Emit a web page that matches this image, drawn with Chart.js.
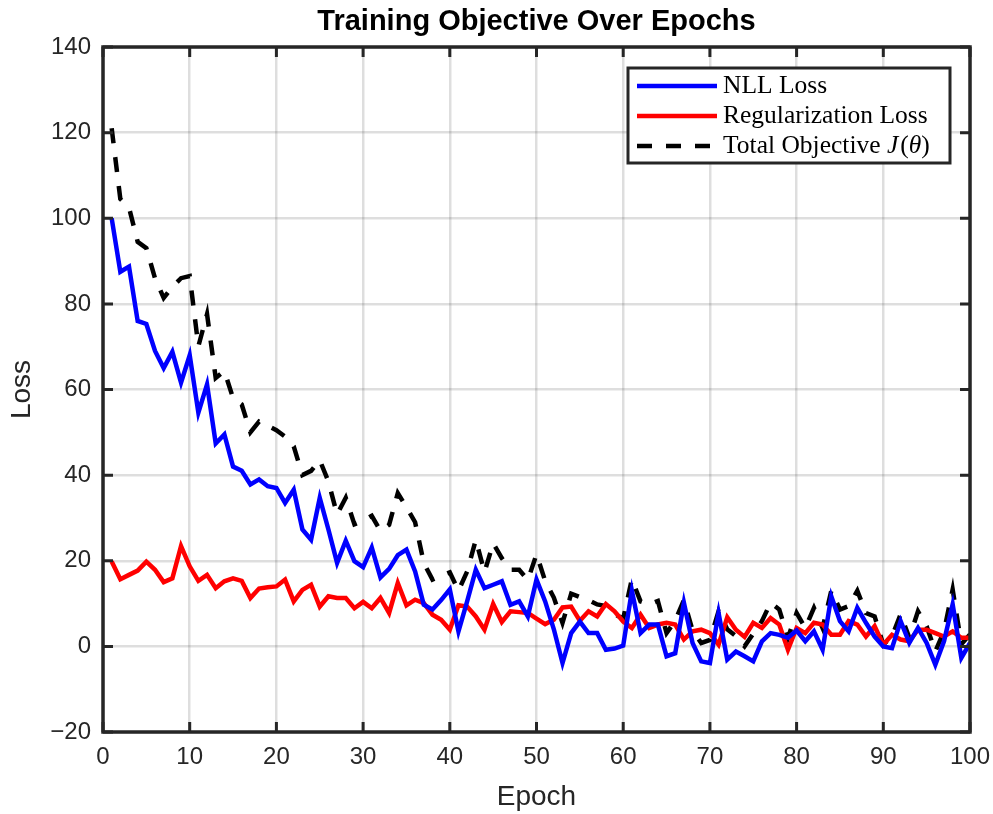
<!DOCTYPE html>
<html>
<head>
<meta charset="utf-8">
<script src="https://cdn.jsdelivr.net/npm/chart.js@4/dist/chart.umd.min.js"></script>
<style>
  html, body { margin: 0; padding: 0; background: #ffffff; }
  #wrap { width: 993px; height: 814px; }
</style>
</head>
<body>
<div id="wrap"><canvas id="c" width="993" height="814"></canvas></div>
<script>
// ---- Data ----
const epochs = Array.from({ length: 100 }, (_, i) => i + 1);

const nllLoss = [
  100, 87.5, 88.7, 76, 75.3, 69, 65, 68.8, 61.6, 68,
  54.6, 61.2, 47.4, 49.5, 42, 41, 37.8, 39, 37.4, 37,
  33.5, 36.6, 27.3, 24.9, 34.7, 27.3, 19.5, 24.7, 19.9, 18.5,
  23.1, 16.1, 18.1, 21.3, 22.6, 17.5, 9.7, 8.6, 10.8, 13.3,
  3.5, 10.5, 17.9, 13.6, 14.4, 15.2, 9.7, 10.5, 7, 15.6,
  10.5, 4, -3.9, 3.1, 5.8, 3.1, 3.1, -0.8, -0.5, 0.2,
  13, 3.1, 5.1, 5.1, -2.3, -1.6, 10.2, 0.8, -3.5, -3.9,
  7.8, -3.1, -1.2, -2.3, -3.5, 1.2, 3.1, 2.7, 2, 3.7,
  1.2, 3.5, -0.8, 11.7, 5.9, 3.5, 9, 5.5, 2.3, 0,
  -0.4, 5.9, 0.8, 4.3, 0.8, -4.3, 1.2, 9.8, -2.7, 0.8
];

const regLoss = [
  19.8, 15.7, 16.7, 17.7, 19.8, 17.9, 15, 15.9, 23.4, 18.7,
  15.3, 16.7, 13.6, 15.2, 15.9, 15.3, 11.3, 13.5, 13.8, 14,
  15.6, 10.5, 13.2, 14.4, 9.3, 11.7, 11.3, 11.3, 8.9, 10.4,
  8.9, 11.3, 7.8, 14.8, 9.6, 10.9, 10.1, 7.4, 6.2, 3.9,
  9.6, 9.3, 7, 3.9, 9.9, 5.7, 8.2, 8, 7.8, 6.5,
  5.2, 6.2, 9.1, 9.3, 6, 8.2, 7, 9.9, 8.2, 5.8,
  4.3, 7.4, 4.3, 5.1, 5.5, 5.1, 1.6, 3.5, 3.9, 3.1,
  0.4, 6.8, 3.9, 2.2, 5.5, 4.3, 6.6, 5.1, -0.8, 4.3,
  3.1, 5.5, 5.1, 2.7, 2.7, 5.9, 5.1, 2.3, 4.7, 0.4,
  2.7, 1.6, 1.2, 3.9, 3.9, 3.1, 2.3, 3.5, 2, 2
];

const totalObjective = [
  121, 104.5, 102.5, 94.5, 93, 86, 81.4, 84, 86, 86.5,
  70.1, 77.6, 62.7, 64.3, 58, 56.5, 50, 52.5, 51.5, 50.5,
  49, 46.7, 40, 41, 43.5, 38.5, 30.8, 34.7, 28.5, 29.3,
  30.5, 27, 28.4, 35.8, 32.5, 29, 19.5, 15.6, 16.5, 17.3,
  13, 17.5, 24.9, 17.3, 24.1, 20.6, 17.9, 17.9, 15.5, 21.5,
  15.3, 11.4, 5.5, 12.3, 11.5, 10.8, 9.8, 9.4, 7.5, 6.5,
  15.7, 10.5, 9.8, 10.6, 3.1, 6, 10.8, 3.7, 0.8, 1.5,
  8.2, 4, 2.4, 0, 3, 5.9, 10.2, 8.6, 2, 7.8,
  4.3, 9, 4.3, 13, 8.6, 9.4, 13, 7.8, 7, 0.4,
  2.3, 7.5, 2, 8.2, 4.7, -1.2, 3.5, 13.3, 0.5, 2.8
];

const seriesNames = ['NLL Loss', 'Regularization Loss', 'Total Objective'];
const xTicks = [0, 10, 20, 30, 40, 50, 60, 70, 80, 90, 100];
const yTicks = [-20, 0, 20, 40, 60, 80, 100, 120, 140];

// ---- Styling ----
const AXIS_COLOR = '#262626';
const SANS = '"Liberation Sans", Arial, Helvetica, sans-serif';
const SERIF = '"Liberation Serif", "Times New Roman", serif';
const LINE_W = 4.5;

function pts(vals) { return epochs.map((e, i) => ({ x: e, y: vals[i] })); }
function fmt(v) { return v < 0 ? '\u2212' + Math.abs(v) : String(v); }

// Frame + inward ticks (MATLAB box style)
const framePlugin = {
  id: 'matlabFrame',
  afterDatasetsDraw(chart) {
    const { ctx, chartArea: a, scales } = chart;
    ctx.save();
    ctx.strokeStyle = AXIS_COLOR;
    ctx.lineWidth = 3;
    ctx.lineCap = 'butt';
    const tl = 10;
    ctx.beginPath();
    xTicks.forEach(v => {
      const px = scales.x.getPixelForValue(v);
      ctx.moveTo(px, a.bottom); ctx.lineTo(px, a.bottom - tl);
      ctx.moveTo(px, a.top); ctx.lineTo(px, a.top + tl);
    });
    yTicks.forEach(v => {
      const py = scales.y.getPixelForValue(v);
      ctx.moveTo(a.left, py); ctx.lineTo(a.left + tl, py);
      ctx.moveTo(a.right, py); ctx.lineTo(a.right - tl, py);
    });
    ctx.stroke();
    ctx.lineWidth = 3.5;
    ctx.strokeRect(a.left, a.top, a.right - a.left, a.bottom - a.top);
    ctx.restore();
  }
};

// Legend box drawn with real text
const legendPlugin = {
  id: 'boxLegend',
  afterDraw(chart) {
    const { ctx, chartArea: a } = chart;
    const right = a.right - 20, top = a.top + 21;
    const left = right - 322, bottom = top + 95;
    ctx.save();
    ctx.fillStyle = '#ffffff';
    ctx.fillRect(left, top, right - left, bottom - top);
    ctx.strokeStyle = AXIS_COLOR;
    ctx.lineWidth = 3;
    ctx.strokeRect(left, top, right - left, bottom - top);
    const rows = [top + 18, top + 48, top + 78];
    const ds = chart.data.datasets;
    rows.forEach((y, i) => {
      ctx.beginPath();
      ctx.strokeStyle = ds[i].borderColor;
      ctx.lineWidth = ds[i].borderWidth;
      ctx.setLineDash(ds[i].borderDash || []);
      ctx.moveTo(left + 9, y); ctx.lineTo(left + 89, y);
      ctx.stroke();
    });
    ctx.setLineDash([]);
    ctx.fillStyle = '#000000';
    ctx.textBaseline = 'middle';
    ctx.textAlign = 'left';
    const tx = left + 95;
    const normal = '25.5px ' + SERIF, italic = 'italic 25.5px ' + SERIF;
    ctx.font = normal;
    ctx.fillText(seriesNames[0], tx, rows[0]);
    ctx.fillText(seriesNames[1], tx, rows[1]);
    // "Total Objective J(θ)" with italic math parts
    const parts = [[seriesNames[2] + ' ', normal], ['J', italic], ['(', normal], ['θ', italic], [')', normal]];
    let x = tx;
    parts.forEach(([t, f]) => {
      ctx.font = f;
      ctx.fillText(t, x, rows[2]);
      x += ctx.measureText(t).width + (t === 'J' ? 2 : 0);
    });
    ctx.restore();
  }
};

new Chart(document.getElementById('c'), {
  type: 'line',
  data: {
    datasets: [
      { label: seriesNames[0], data: pts(nllLoss), borderColor: '#0000ff', borderWidth: LINE_W, pointRadius: 0, tension: 0, fill: false },
      { label: seriesNames[1], data: pts(regLoss), borderColor: '#ff0000', borderWidth: LINE_W, pointRadius: 0, tension: 0, fill: false },
      { label: 'Total Objective J(θ)', data: pts(totalObjective), borderColor: '#000000', borderWidth: LINE_W, borderDash: [15, 14], borderCapStyle: 'butt', pointRadius: 0, tension: 0, fill: false }
    ]
  },
  options: {
    responsive: false,
    animation: false,
    devicePixelRatio: 1,
    layout: { padding: { left: 0, right: 23, top: 0, bottom: 0 } },
    plugins: {
      legend: { display: false },
      tooltip: { enabled: false },
      title: {
        display: true,
        fullSize: false,
        text: 'Training Objective Over Epochs',
        color: '#000000',
        font: { family: SANS, size: 29, weight: 'bold', lineHeight: 1.2 },
        padding: { top: 4.6, bottom: 7.6 }
      }
    },
    scales: {
      x: {
        type: 'linear', min: 0, max: 100,
        afterBuildTicks(scale) { scale.ticks = xTicks.map(v => ({ value: v })); },
        afterFit(scale) { scale.height = 82; scale.paddingLeft = 0; scale.paddingRight = 0; },
        ticks: { color: AXIS_COLOR, font: { family: SANS, size: 24 }, padding: 10.6, maxRotation: 0, autoSkip: false, callback: fmt },
        grid: { color: 'rgba(0,0,0,0.13)', lineWidth: 2.5, drawTicks: false },
        border: { display: false },
        title: { display: true, text: 'Epoch', color: AXIS_COLOR, font: { family: SANS, size: 28 }, padding: { top: 0, bottom: 0 } }
      },
      y: {
        type: 'linear', min: -20, max: 140,
        afterBuildTicks(scale) { scale.ticks = yTicks.map(v => ({ value: v })); },
        afterFit(scale) { scale.width = 103; scale.paddingTop = 0; scale.paddingBottom = 0; },
        ticks: { color: AXIS_COLOR, font: { family: SANS, size: 24 }, padding: 12, autoSkip: false, callback: fmt },
        grid: { color: 'rgba(0,0,0,0.13)', lineWidth: 2.5, drawTicks: false },
        border: { display: false },
        title: { display: true, text: 'Loss', color: AXIS_COLOR, font: { family: SANS, size: 28 }, padding: { top: 5, bottom: 0 } }
      }
    }
  },
  plugins: [framePlugin, legendPlugin]
});
</script>
</body>
</html>
